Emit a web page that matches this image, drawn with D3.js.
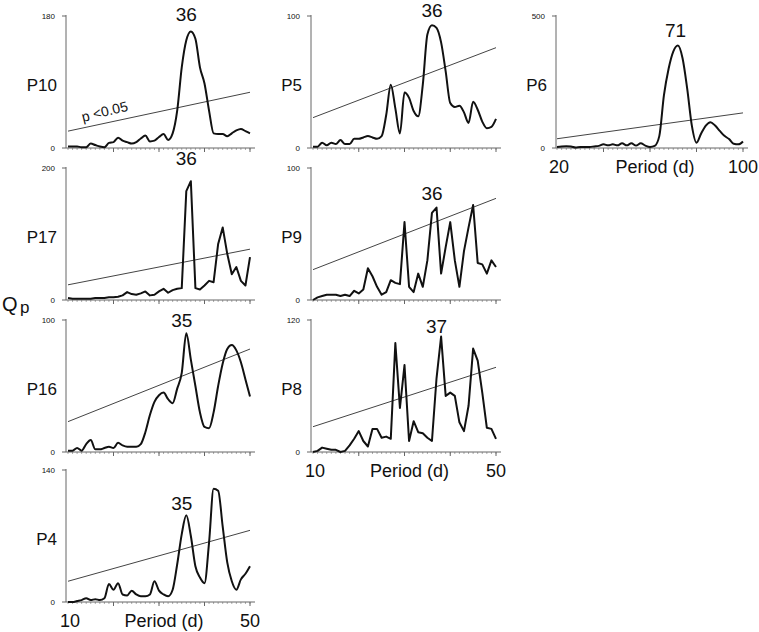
<!DOCTYPE html>
<html><head><meta charset="utf-8">
<script src="https://cdn.jsdelivr.net/npm/d3@7"></script>
<style>
body{margin:0;background:#fff}
svg{display:block}
text{font-family:"Liberation Sans",Arial,Helvetica,sans-serif;fill:#111}
</style>
</head><body><svg id="c" width="759" height="632"></svg>
<script>
// ---- data (periods in days, Qp values) ----
const periods = [10,11,12,13,14,15,16,17,18,19,20,21,22,23,24,25,26,27,28,29,30,31,32,33,34,35,36,37,38,39,40,41,42,43,44,45,46,47,48,49,50];
const periodsP6 = [20,22,24,26,28,30,32,34,36,38,40,42,44,46,48,50,52,54,56,58,60,62,64,66,68,70,72,74,76,78,80,82,84,86,88,90,92,94,96,98,100];

const qpP10 = [2,2,2,1,1,6,4,2,1,7,8,14,10,8,6,8,13,17,9,10,15,19,11,20,51,110,147,159,149,110,88,51,20,19,19,16,20,24,26,23,20];
const qpP17 = [3,2,2,2,2,2,3,3,3,4,4,5,7,12,9,8,10,13,7,8,13,17,11,15,17,18,165,180,18,16,22,29,27,85,110,70,39,50,29,22,65];
const qpP16 = [1,1,3,1,6,9,2,2,3,4,3,7,5,4,4,4,6,15,28,38,43,45,40,37,48,60,90,70,50,30,19,18,30,50,67,78,81,77,68,55,42];
const qpP4  = [0,0,1,2,4,2,3,2,4,19,13,20,8,7,12,8,6,6,8,22,12,8,6,13,40,72,92,70,38,26,20,63,120,118,80,42,22,13,24,30,38];
const qpP5  = [1,1,4,2,4,3,6,3,3,7,7,8,9,8,7,9,25,48,30,11,42,38,28,24,48,86,93,91,80,58,34,31,32,27,19,35,29,20,15,16,22];
const qpP9  = [0,2,3,4,4,4,3,4,3,7,5,8,24,18,10,4,6,15,13,12,59,10,6,20,10,30,66,70,20,40,59,30,10,37,55,72,28,27,20,30,25];
const qpP8  = [0,1,4,3,2,2,0,1,6,12,19,10,5,21,21,13,14,12,99,40,79,10,28,18,17,13,10,67,105,51,54,51,27,19,42,94,83,54,22,21,12];
const qpP6  = [4,6,7,6,2,4,4,4,6,8,14,10,14,10,18,10,18,9,18,9,4,8,45,200,300,365,388,340,225,85,20,55,85,98,85,65,46,34,16,14,25];

const panelNames   = ["P10","P17","P16","P4","P5","P9","P8","P6"];
const panelSeries  = [qpP10,qpP17,qpP16,qpP4,qpP5,qpP9,qpP8,qpP6];
const yMaxTicks    = [180,200,100,140,100,100,120,500];
const peakLabels   = ["36","36","35","35","36","36","37","71"];
const peakPeriods  = [36,36,35,35,36,36,37,71];
const peakLevels   = [173,205,95,98,99,76,108,420];
const threshStart  = [23,23,23,22,23,23,23,35];
const threshEnd    = [76,77,78,76,76,77,77,133];
const smoothPanel  = [true,false,true,true,true,false,false,true];

// ---- layout ----
const panelCol = [0,0,0,0,1,1,1,2];
const panelRow = [0,1,2,3,0,1,2,0];
const colAxisX = [66,311,556];
const colRange = [[68,250],[313,496],[557,743]];
const rowTop = [16,168,320,470];
const panelH = 132;
const bottomPanels = ["P4","P8","P6"];

const svg = d3.select("#c");

panelNames.forEach((name,i)=>{
  const c = panelCol[i], r = panelRow[i];
  const xs = c===2 ? periodsP6 : periods;
  const vals = panelSeries[i];
  const top = rowTop[r], bottom = top + panelH;
  const x = d3.scaleLinear().domain([xs[0], xs[xs.length-1]]).range(colRange[c]);
  const y = d3.scaleLinear().domain([0, yMaxTicks[i]]).range([bottom, top]);
  const ax = colAxisX[c];
  const g = svg.append("g");

  // minor ticks (dotted look under x axis)
  g.append("g").selectAll("line").data(xs).join("line")
    .attr("x1",d=>x(d)).attr("x2",d=>x(d))
    .attr("y1",bottom).attr("y2",bottom+2)
    .attr("stroke","#aaa").attr("stroke-width",1);
  // major x ticks
  const step = c===2 ? 20 : 10;
  const major = xs.filter(d => (d - xs[0]) % step === 0 && d !== xs[0]);
  g.append("g").selectAll("line").data(major).join("line")
    .attr("x1",d=>x(d)).attr("x2",d=>x(d))
    .attr("y1",bottom).attr("y2",bottom+4)
    .attr("stroke","#666").attr("stroke-width",1);
  // x axis line
  g.append("line").attr("x1",ax).attr("x2",x(xs[xs.length-1])+5)
    .attr("y1",bottom).attr("y2",bottom).attr("stroke","#666").attr("stroke-width",1);
  // y axis
  g.append("line").attr("x1",ax).attr("x2",ax).attr("y1",y(yMaxTicks[i])-1).attr("y2",bottom)
    .attr("stroke","#666").attr("stroke-width",1);
  [0, yMaxTicks[i]].forEach(v=>{
    g.append("line").attr("x1",ax-4).attr("x2",ax).attr("y1",y(v)).attr("y2",y(v))
      .attr("stroke","#666").attr("stroke-width",1);
    g.append("text").attr("x",ax-11).attr("y",y(v)).attr("dy","0.35em")
      .attr("text-anchor","end").attr("font-size",8).text(v);
  });

  // threshold line
  const x0 = xs[0], x1 = xs[xs.length-1];
  g.append("line").attr("x1",x(x0)).attr("x2",x(x1))
    .attr("y1",y(threshStart[i])).attr("y2",y(threshEnd[i]))
    .attr("stroke","#444").attr("stroke-width",1);

  // data line
  const line = d3.line().x((d,k)=>x(xs[k])).y(d=>y(d))
    .curve(smoothPanel[i] ? d3.curveMonotoneX : d3.curveLinear);
  g.append("path").datum(vals).attr("d",line)
    .attr("fill","none").attr("stroke","#111").attr("stroke-width",2)
    .attr("stroke-linejoin","round");

  // panel name
  g.append("text").attr("x",ax-9).attr("y",top+75).attr("text-anchor","end")
    .attr("font-size",17).text(name);
  // peak label
  g.append("text").attr("x",x(peakPeriods[i])).attr("y",y(peakLevels[i]))
    .attr("text-anchor","middle").attr("font-size",19).text(peakLabels[i]);

  // p<0.05 annotation on P10
  if (name==="P10"){
    const px = 13.3;
    const tv = threshStart[i] + (threshEnd[i]-threshStart[i])*(px-x0)/(x1-x0);
    const ang = Math.atan2(y(threshEnd[i])-y(threshStart[i]), x(x1)-x(x0))*180/Math.PI - 2;
    g.append("text").attr("transform",`translate(${x(px)},${y(tv)-6}) rotate(${ang})`)
      .attr("font-size",14).text("p <0.05");
  }

  // bottom labels
  if (bottomPanels.includes(name)){
    const by = bottom + 25;
    g.append("text").attr("x",x(x0)+2).attr("y",by).attr("text-anchor","middle").attr("font-size",18).text(x0);
    g.append("text").attr("x",x(x1)).attr("y",by).attr("text-anchor","middle").attr("font-size",18).text(x1);
    g.append("text").attr("x",(x(x0)+x(x1))/2+5).attr("y",by).attr("text-anchor","middle").attr("font-size",18).text("Period (d)");
  }
});

// Q_p axis title
svg.append("text").attr("x",2).attr("y",311).attr("font-size",20).text("Q");
svg.append("text").attr("x",20).attr("y",313).attr("font-size",17).text("p");
</script>
</body></html>
